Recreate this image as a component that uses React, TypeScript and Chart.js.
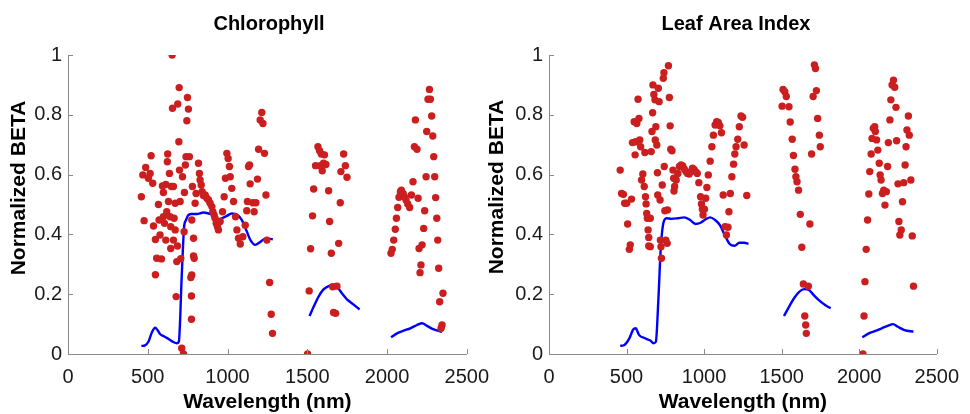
import React, { useEffect, useRef } from "react";
import { Chart, registerables } from "chart.js";
Chart.register(...registerables);

// ---------- axis ticks ----------
const xTickValues = [0, 500, 1000, 1500, 2000, 2500];
const yTickValues = [0, 0.2, 0.4, 0.6, 0.8, 1];

// ---------- Chlorophyll: normalized BETA (wavelength nm, value) ----------
const chlorophyllBeta: [number, number][] = [
  [460, 0.526], [477, 0.446], [469, 0.599], [487, 0.624], [504, 0.588], [521, 0.663], [515, 0.604],
  [531, 0.571], [536, 0.428], [548, 0.383], [548, 0.265], [556, 0.32], [567, 0.5], [571, 0.448],
  [577, 0.398], [586, 0.318], [592, 0.562], [598, 0.54], [598, 0.459], [605, 0.437], [613, 0.567],
  [619, 0.476], [613, 0.381], [623, 0.643], [625, 0.669], [630, 0.51], [636, 0.604], [640, 0.459],
  [644, 0.426], [644, 0.353], [648, 0.56], [653, 1.0], [655, 0.822], [661, 0.56], [661, 0.381],
  [665, 0.454], [672, 0.504], [672, 0.415], [678, 0.192], [682, 0.309], [686, 0.361], [688, 0.836],
  [695, 0.71], [697, 0.891], [699, 0.615], [703, 0.51], [707, 0.319], [713, 0.019], [718, 0.593],
  [724, 0.0], [728, 0.409], [730, 0.54], [736, 0.632], [740, 0.66], [745, 0.78], [749, 0.858],
  [755, 0.819], [761, 0.66], [776, 0.448], [780, 0.56], [787, 0.387], [791, 0.32], [797, 0.504],
  [770, 0.256], [776, 0.264], [774, 0.194], [774, 0.116], [787, 0.328], [803, 0.537], [818, 0.638],
  [824, 0.604], [828, 0.582], [835, 0.565], [841, 0.543], [849, 0.53], [860, 0.532], [870, 0.521],
  [881, 0.515], [891, 0.504], [902, 0.493], [908, 0.476], [916, 0.465], [922, 0.454], [929, 0.437],
  [937, 0.426], [943, 0.415], [954, 0.443], [969, 0.476], [979, 0.526], [987, 0.588], [996, 0.671],
  [1004, 0.654], [1012, 0.627], [1017, 0.593], [1027, 0.554], [1038, 0.51], [1050, 0.459],
  [1059, 0.415], [1069, 0.387], [1080, 0.368], [1096, 0.392], [1111, 0.431], [1121, 0.479],
  [1125, 0.51], [1132, 0.627], [1138, 0.632], [1142, 0.569], [1159, 0.506], [1167, 0.476],
  [1178, 0.506], [1188, 0.585], [1195, 0.685], [1205, 0.783], [1215, 0.808], [1222, 0.771],
  [1232, 0.671], [1241, 0.532], [1247, 0.381], [1264, 0.239], [1274, 0.133], [1282, 0.069],
  [1502, 0.0], [1512, 0.211], [1521, 0.352], [1533, 0.462], [1540, 0.552], [1552, 0.63],
  [1567, 0.693], [1577, 0.68], [1581, 0.63], [1588, 0.669], [1594, 0.613], [1602, 0.638],
  [1608, 0.666], [1617, 0.634], [1634, 0.546], [1640, 0.443], [1651, 0.337], [1659, 0.225],
  [1665, 0.139], [1678, 0.136], [1686, 0.227], [1697, 0.37], [1707, 0.506], [1711, 0.61],
  [1728, 0.669], [1739, 0.63], [1749, 0.591],
  [2025, 0.337], [2033, 0.35], [2042, 0.381], [2052, 0.417], [2059, 0.454], [2067, 0.49],
  [2075, 0.524], [2084, 0.543], [2090, 0.548], [2101, 0.537], [2109, 0.526], [2119, 0.515],
  [2130, 0.502], [2142, 0.49], [2153, 0.532], [2163, 0.576], [2172, 0.693], [2178, 0.783],
  [2188, 0.685], [2195, 0.521], [2201, 0.353], [2207, 0.272], [2213, 0.298], [2220, 0.365],
  [2230, 0.42], [2236, 0.479], [2245, 0.593], [2249, 0.744], [2257, 0.852], [2266, 0.885],
  [2272, 0.852], [2280, 0.796], [2287, 0.729], [2293, 0.66], [2299, 0.593], [2305, 0.523],
  [2312, 0.454], [2318, 0.381], [2324, 0.287], [2330, 0.175], [2339, 0.086], [2345, 0.097],
  [2351, 0.203],
];

// ---------- Chlorophyll: reflectance spectrum segments ----------
const chlorophyllSpectrumVNIR: [number, number][] = [
  [460, 0.027], [483, 0.029], [504, 0.041], [525, 0.071], [546, 0.088], [561, 0.08], [577, 0.067],
  [598, 0.06], [619, 0.054], [640, 0.047], [661, 0.04], [682, 0.036], [695, 0.041], [703, 0.114],
  [711, 0.236], [720, 0.348], [728, 0.426], [740, 0.448], [755, 0.465], [776, 0.468], [807, 0.468],
  [849, 0.473], [881, 0.47], [912, 0.465], [943, 0.45], [964, 0.454], [996, 0.462], [1027, 0.47],
  [1063, 0.465], [1090, 0.448], [1117, 0.415], [1146, 0.379], [1174, 0.365], [1201, 0.373],
  [1230, 0.384], [1268, 0.385], [1284, 0.384],
];
const chlorophyllSpectrumSWIR1: [number, number][] = [
  [1514, 0.127], [1540, 0.158], [1571, 0.192], [1602, 0.216], [1634, 0.227], [1665, 0.231],
  [1690, 0.223], [1717, 0.203], [1749, 0.183], [1787, 0.167], [1828, 0.149],
];
const chlorophyllSpectrumSWIR2: [number, number][] = [
  [2025, 0.056], [2063, 0.069], [2105, 0.078], [2146, 0.086], [2188, 0.097], [2220, 0.103],
  [2251, 0.094], [2293, 0.082], [2345, 0.074],
];

// ---------- Leaf Area Index: normalized BETA ----------
const laiBeta: [number, number][] = [
  [459, 0.615], [468, 0.537], [480, 0.534], [488, 0.504], [501, 0.504], [507, 0.435], [518, 0.35],
  [524, 0.365], [532, 0.518], [538, 0.707], [549, 0.777], [555, 0.666], [559, 0.71], [566, 0.771],
  [574, 0.852], [580, 0.788], [585, 0.716], [591, 0.693], [597, 0.582], [605, 0.602], [614, 0.56],
  [618, 0.674], [622, 0.526], [626, 0.502], [630, 0.47], [634, 0.454], [639, 0.415], [643, 0.39],
  [643, 0.361], [653, 0.454], [653, 0.359], [659, 0.677], [664, 0.744], [668, 0.807], [670, 0.9],
  [676, 0.868], [683, 0.85], [685, 0.716], [689, 0.76], [695, 0.699], [699, 0.606], [701, 0.532],
  [705, 0.889], [710, 0.844], [716, 0.515], [718, 0.381], [722, 0.359], [725, 0.32], [730, 0.565],
  [737, 0.922], [741, 0.941], [743, 0.627], [747, 0.479], [753, 0.381], [762, 0.37], [764, 0.482],
  [770, 0.964], [776, 0.858], [781, 0.763], [785, 0.685], [793, 0.68], [799, 0.615], [804, 0.588],
  [806, 0.545], [810, 0.56], [820, 0.582], [831, 0.604], [841, 0.627], [852, 0.632], [862, 0.629],
  [872, 0.619], [883, 0.61], [893, 0.604], [904, 0.602], [914, 0.61], [925, 0.621], [935, 0.617],
  [945, 0.61], [956, 0.604], [966, 0.573], [977, 0.526], [983, 0.502], [989, 0.484], [993, 0.465],
  [1002, 0.484], [1010, 0.521], [1018, 0.557], [1027, 0.599], [1039, 0.645], [1050, 0.693],
  [1060, 0.732], [1071, 0.766], [1081, 0.777], [1092, 0.774], [1102, 0.763], [1112, 0.74],
  [1123, 0.532], [1135, 0.426], [1144, 0.398], [1154, 0.424], [1160, 0.476], [1169, 0.537],
  [1179, 0.593], [1190, 0.635], [1198, 0.669], [1206, 0.693], [1217, 0.718], [1227, 0.76],
  [1238, 0.796], [1248, 0.792], [1258, 0.699], [1275, 0.53],
  [1503, 0.829], [1509, 0.885], [1520, 0.877], [1530, 0.861], [1547, 0.827], [1555, 0.776],
  [1568, 0.718], [1576, 0.664], [1586, 0.618], [1592, 0.593], [1599, 0.576], [1609, 0.548],
  [1620, 0.467], [1630, 0.357], [1640, 0.234], [1649, 0.127], [1655, 0.097], [1659, 0.069],
  [1672, 0.227], [1682, 0.435], [1693, 0.669], [1703, 0.861], [1711, 0.967], [1718, 0.955],
  [1724, 0.881], [1732, 0.788], [1743, 0.732], [1749, 0.693],
  [2024, 0.0], [2031, 0.127], [2037, 0.242], [2045, 0.35], [2054, 0.448], [2062, 0.535],
  [2068, 0.61], [2077, 0.669], [2083, 0.721], [2091, 0.755], [2100, 0.76], [2104, 0.744],
  [2112, 0.716], [2120, 0.682], [2129, 0.638], [2135, 0.599], [2141, 0.582], [2150, 0.537],
  [2158, 0.548], [2166, 0.498], [2175, 0.543], [2183, 0.627], [2188, 0.707], [2198, 0.783],
  [2204, 0.85], [2212, 0.9], [2221, 0.916], [2229, 0.892], [2237, 0.825], [2241, 0.713],
  [2250, 0.569], [2256, 0.443], [2262, 0.398], [2271, 0.415], [2279, 0.509], [2287, 0.573],
  [2296, 0.632], [2302, 0.693], [2308, 0.749], [2317, 0.796], [2323, 0.732], [2333, 0.582],
  [2342, 0.395], [2350, 0.227],
];

// ---------- Leaf Area Index: reflectance spectrum segments ----------
const laiSpectrumVNIR: [number, number][] = [
  [459, 0.027], [486, 0.03], [518, 0.052], [543, 0.082], [559, 0.086], [580, 0.064], [622, 0.052],
  [653, 0.045], [674, 0.036], [689, 0.041], [705, 0.18], [720, 0.348], [737, 0.437], [758, 0.454],
  [789, 0.452], [831, 0.454], [872, 0.457], [910, 0.448], [945, 0.435], [977, 0.439], [1008, 0.45],
  [1039, 0.457], [1071, 0.448], [1102, 0.431], [1133, 0.398], [1165, 0.368], [1196, 0.362],
  [1227, 0.372], [1258, 0.372], [1286, 0.368],
];
const laiSpectrumSWIR1: [number, number][] = [
  [1515, 0.127], [1551, 0.161], [1582, 0.188], [1613, 0.208], [1645, 0.217], [1676, 0.214],
  [1707, 0.197], [1738, 0.181], [1780, 0.164], [1816, 0.153],
];
const laiSpectrumSWIR2: [number, number][] = [
  [2020, 0.056], [2062, 0.069], [2104, 0.077], [2145, 0.086], [2187, 0.095], [2218, 0.1],
  [2250, 0.091], [2292, 0.08], [2350, 0.075],
];

const RED = "#cb1f1f";
const BLUE = "#0000ff";
const AXIS = "#8a8a8a";
const TEXT = "#1a1a1a";

type PanelProps = {
  title: string;
  beta: [number, number][];
  spectra: [number, number][][];
  canvasLeft: number;
  canvasWidth: number;
  areaLeft: number;
  areaRight: number;
  titleX: number;
  yLabelX: number;
  yLabelY: number;
};

function Panel(props: PanelProps) {
  const ref = useRef<HTMLCanvasElement | null>(null);
  useEffect(() => {
    const canvas = ref.current;
    if (!canvas) return;
    const toPts = (arr: [number, number][]) => arr.map(([x, y]) => ({ x, y }));
    const datasets: any[] = [
      {
        label: "BETA",
        data: toPts(props.beta),
        showLine: false,
        pointRadius: 3.7,
        pointHoverRadius: 3.7,
        pointBackgroundColor: RED,
        pointBorderWidth: 0,
        borderColor: RED,
      },
      ...props.spectra.map((seg, i) => ({
        label: "Spectrum " + i,
        data: toPts(seg),
        showLine: true,
        pointRadius: 0,
        borderColor: BLUE,
        borderWidth: 2.4,
        cubicInterpolationMode: "monotone",
        fill: false,
      })),
    ];

    const decorations = {
      id: "decorations",
      afterDraw(chart: any) {
        const ctx = chart.ctx as CanvasRenderingContext2D;
        const area = chart.chartArea;
        const xs = chart.scales.x;
        const ys = chart.scales.y;
        ctx.save();
        // inward tick marks
        ctx.strokeStyle = AXIS;
        ctx.lineWidth = 1;
        ctx.beginPath();
        xTickValues.forEach((v) => {
          const px = Math.round(xs.getPixelForValue(v)) + 0.5;
          ctx.moveTo(px, area.bottom);
          ctx.lineTo(px, area.bottom - 5);
        });
        yTickValues.forEach((v) => {
          const py = Math.round(ys.getPixelForValue(v)) + 0.5;
          ctx.moveTo(area.left, py);
          ctx.lineTo(area.left + 5, py);
        });
        ctx.stroke();
        // texts
        ctx.fillStyle = "#000";
        ctx.textAlign = "center";
        ctx.textBaseline = "alphabetic";
        ctx.font = 'bold 20px "Liberation Sans", Arial, sans-serif';
        ctx.fillText(props.title, props.titleX, 30);
        ctx.font = 'bold 21px "Liberation Sans", Arial, sans-serif';
        ctx.fillText("Wavelength (nm)", (area.left + area.right) / 2, 408);
        ctx.translate(props.yLabelX, props.yLabelY);
        ctx.rotate(-Math.PI / 2);
        ctx.textBaseline = "middle";
        ctx.fillText("Normalized BETA", 0, 0);
        ctx.restore();
      },
    };

    const chart = new Chart(canvas, {
      type: "scatter",
      data: { datasets },
      options: {
        animation: false,
        responsive: false,
        devicePixelRatio: 1,
        events: [],
        layout: {
          padding: { top: 55, left: 0, bottom: 0, right: props.canvasWidth - props.areaRight },
        },
        plugins: { legend: { display: false }, tooltip: { enabled: false }, title: { display: false } },
        scales: {
          x: {
            type: "linear",
            min: 0,
            max: 2500,
            afterBuildTicks: (s: any) => {
              s.ticks = xTickValues.map((v) => ({ value: v }));
            },
            afterFit: (s: any) => {
              s.height = 414 - 354;
            },
            grid: { display: false, drawTicks: false },
            border: { display: true, color: AXIS, width: 1 },
            ticks: {
              padding: 11,
              color: TEXT,
              font: { family: '"Liberation Sans", Arial, sans-serif', size: 20 },
              maxRotation: 0,
              autoSkip: false,
              callback: (v: any) => String(v),
            },
          },
          y: {
            type: "linear",
            min: 0,
            max: 1,
            afterBuildTicks: (s: any) => {
              s.ticks = yTickValues.map((v) => ({ value: v }));
            },
            afterFit: (s: any) => {
              s.width = props.areaLeft;
            },
            grid: { display: false, drawTicks: false },
            border: { display: true, color: AXIS, width: 1 },
            ticks: {
              padding: 6,
              color: TEXT,
              font: { family: '"Liberation Sans", Arial, sans-serif', size: 20 },
              autoSkip: false,
              callback: (v: any) => String(Math.round(Number(v) * 10) / 10),
            },
          },
        },
      } as any,
      plugins: [decorations],
    });
    return () => chart.destroy();
  }, []);

  return (
    <canvas
      ref={ref}
      width={props.canvasWidth}
      height={414}
      style={{ position: "absolute", left: props.canvasLeft, top: 0, width: props.canvasWidth, height: 414 }}
    />
  );
}

export default function App() {
  return (
    <div style={{ position: "absolute", left: 0, top: 0, width: 970, height: 414, background: "#fff", overflow: "hidden" }}>
      <Panel
        title="Chlorophyll"
        beta={chlorophyllBeta}
        spectra={[chlorophyllSpectrumVNIR, chlorophyllSpectrumSWIR1, chlorophyllSpectrumSWIR2]}
        canvasLeft={0}
        canvasWidth={500}
        areaLeft={68}
        areaRight={467}
        titleX={269}
        yLabelX={19}
        yLabelY={188}
      />
      <Panel
        title="Leaf Area Index"
        beta={laiBeta}
        spectra={[laiSpectrumVNIR, laiSpectrumSWIR1, laiSpectrumSWIR2]}
        canvasLeft={485}
        canvasWidth={485}
        areaLeft={64}
        areaRight={463}
        titleX={251}
        yLabelX={12}
        yLabelY={187}
      />
    </div>
  );
}
